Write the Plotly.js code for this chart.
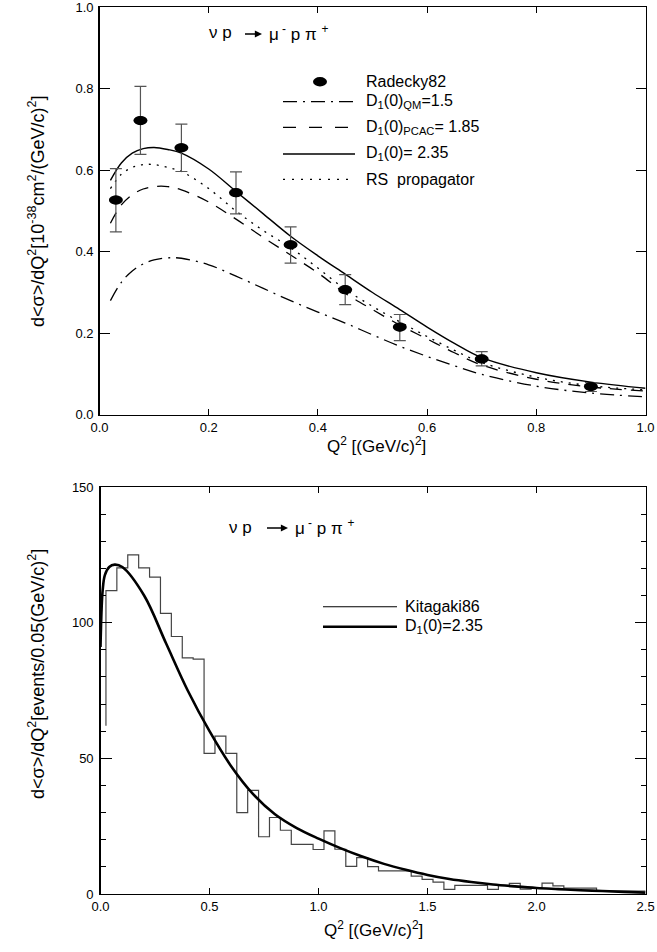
<!DOCTYPE html>
<html>
<head>
<meta charset="utf-8">
<script src="https://cdn.plot.ly/plotly-3.0.1.min.js"></script>
<style>html,body{margin:0;padding:0;background:#fff;}#chart{width:657px;height:952px;}</style>
</head>
<body>
<div id="chart"></div>
<script>
// ---------- Top panel data ----------
const q2Radecky = [0.03, 0.075, 0.15, 0.25, 0.35, 0.45, 0.55, 0.70, 0.90];
const radecky82 = [0.527, 0.722, 0.655, 0.545, 0.417, 0.307, 0.215, 0.137, 0.069];
const radeckyErrUp = [0.077, 0.084, 0.058, 0.051, 0.044, 0.037, 0.031, 0.018, 0.010];
const radeckyErrDn = [0.078, 0.083, 0.058, 0.052, 0.045, 0.037, 0.033, 0.017, 0.012];

const q2Curve = [0.02, 0.04, 0.06, 0.08, 0.10, 0.125, 0.15, 0.20, 0.25, 0.30, 0.35, 0.40, 0.45, 0.50, 0.55, 0.60, 0.65, 0.70, 0.80, 0.90, 1.00];
const d1QM   = [0.280, 0.325, 0.353, 0.370, 0.380, 0.385, 0.384, 0.368, 0.340, 0.310, 0.280, 0.252, 0.225, 0.196, 0.168, 0.143, 0.120, 0.099, 0.070, 0.053, 0.044];
const d1PCAC = [0.470, 0.515, 0.540, 0.554, 0.560, 0.560, 0.552, 0.522, 0.480, 0.435, 0.392, 0.348, 0.298, 0.258, 0.220, 0.186, 0.152, 0.122, 0.087, 0.068, 0.058];
const d1Fit  = [0.575, 0.618, 0.642, 0.653, 0.656, 0.651, 0.642, 0.603, 0.548, 0.493, 0.438, 0.390, 0.345, 0.300, 0.258, 0.215, 0.175, 0.140, 0.103, 0.080, 0.065];
const rsProp = [0.555, 0.590, 0.607, 0.614, 0.614, 0.607, 0.597, 0.555, 0.500, 0.452, 0.410, 0.360, 0.308, 0.266, 0.228, 0.192, 0.158, 0.128, 0.092, 0.071, 0.061];
const topXTicks = [0, 0.2, 0.4, 0.6, 0.8, 1.0];
const topYTicks = [0, 0.2, 0.4, 0.6, 0.8, 1.0];

// ---------- Bottom panel data ----------
const binLeft = [0.025,0.075,0.125,0.175,0.225,0.275,0.325,0.375,0.425,0.475,
                 0.525,0.575,0.625,0.675,0.725,0.775,0.825,0.875,0.925,0.975,
                 1.025,1.075,1.125,1.175,1.225,1.275,1.325,1.375,1.425,1.475,
                 1.525,1.575,1.625,1.675,1.725,1.775,1.825,1.875,1.925,1.975,
                 2.025,2.075,2.125,2.175,2.225,2.275,2.325,2.375,2.425,2.475];
const histEnd = 2.5;
const histStart = 62.0;
const kitagaki86 = [111.8,120.2,125.0,120.2,116.8,103.4,94.9,87.0,86.6,51.8,
                    58.2,51.8,30.0,38.2,21.1,28.2,23.5,18.3,18.3,16.4,
                    23.3,16.5,10.2,13.4,10.1,8.5,8.5,8.5,6.6,5.4,
                    4.4,1.7,3.2,3.2,3.2,1.7,3.2,3.9,1.8,2.3,
                    4.0,3.0,2.2,2.2,2.2,1.1,1.1,1.1,1.1,1.1];

const q2Fit2 = [0.0, 0.005, 0.01, 0.02, 0.04, 0.065, 0.10, 0.20, 0.30, 0.40, 0.50, 0.60, 0.70, 0.80, 0.90, 1.00, 1.10, 1.20, 1.30, 1.40, 1.50, 1.60, 1.70, 1.80, 1.90, 2.00, 2.10, 2.20, 2.30, 2.40, 2.50];
const fit235 = [91, 105, 112, 117.5, 120.5, 121.4, 120.5, 110, 92.5, 75, 60, 47, 36.8, 29.4, 24.3, 20.4, 16.9, 13.8, 11.1, 8.9, 7.0, 5.5, 4.4, 3.5, 2.8, 2.2, 1.8, 1.4, 1.1, 0.8, 0.5];
const botXTicks = [0, 0.5, 1.0, 1.5, 2.0, 2.5];
const botYTicks = [0, 50, 100, 150];

// ---------- Build histogram step path ----------
const hx = [binLeft[0]].concat(binLeft, [histEnd]);
const hy = [histStart].concat(kitagaki86, [kitagaki86[kitagaki86.length-1]]);

const FONT = 'Liberation Sans, Arial, Helvetica, sans-serif';

const traces = [
  {x: q2Curve, y: d1QM, xaxis:'x', yaxis:'y', mode:'lines', line:{color:'black', width:1.3, dash:'14px,6px,2px,6px', shape:'spline'}, name:'D1(0)QM=1.5'},
  {x: q2Curve, y: d1PCAC, xaxis:'x', yaxis:'y', mode:'lines', line:{color:'black', width:1.3, dash:'12px,9px', shape:'spline'}, name:'D1(0)PCAC=1.85'},
  {x: q2Curve, y: rsProp, xaxis:'x', yaxis:'y', mode:'lines', line:{color:'black', width:1.3, dash:'2px,6px', shape:'spline'}, name:'RS propagator'},
  {x: q2Curve, y: d1Fit, xaxis:'x', yaxis:'y', mode:'lines', line:{color:'black', width:1.4, shape:'spline'}, name:'D1(0)=2.35'},
  {x: q2Radecky, y: radecky82, xaxis:'x', yaxis:'y', mode:'markers', name:'Radecky82',
   marker:{color:'black', size:9, symbol:'circle'},
   error_y:{type:'data', symmetric:false, array: radeckyErrUp, arrayminus: radeckyErrDn, color:'#555', thickness:1.2, width:6}},
  {x: hx, y: hy, xaxis:'x2', yaxis:'y2', mode:'lines', line:{color:'#444', width:1.2, shape:'hv'}, name:'Kitagaki86'},
  {x: q2Fit2, y: fit235, xaxis:'x2', yaxis:'y2', mode:'lines', line:{color:'black', width:2.6, shape:'spline', smoothing:1}, name:'D1(0)=2.35'}
];

// ellipse markers at data points (drawn through axis scales)
const shapes = q2Radecky.map((q, i) => ({
  type:'circle', xref:'x', yref:'y', xsizemode:'pixel', ysizemode:'pixel',
  xanchor: q, yanchor: radecky82[i], x0:-7, x1:7, y0:-4.6, y1:4.6,
  fillcolor:'black', line:{color:'black', width:0}
}));

// manual legend
const px = v => v/657, py = v => 1 - v/952;
function legLine(x0, x1, y, dash, width){
  return {type:'line', xref:'paper', yref:'paper', x0:px(x0), x1:px(x1), y0:py(y), y1:py(y), line:{color:'black', width:width, dash:dash}};
}
shapes.push({type:'circle', xref:'paper', yref:'paper', x0:px(313), x1:px(327), y0:py(86.4), y1:py(77.0), fillcolor:'black', line:{width:0}});
shapes.push(legLine(283, 355, 101.7, '14px,6px,2px,6px', 1.3));
shapes.push(legLine(283, 355, 127.3, '13px,13px', 1.3));
shapes.push(legLine(283, 355, 154.0, 'solid', 1.4));
shapes.push(legLine(283, 355, 179.3, '2px,7px', 1.3));
shapes.push(legLine(323, 397, 606.7, 'solid', 1.1));
shapes.push(legLine(323, 397, 626.7, 'solid', 2.6));

const legFont = {family: FONT, size: 16, color:'black'};
function leg(x, y, t){ return {xref:'paper', yref:'paper', x:px(x), y:py(y), xanchor:'left', yanchor:'middle', text:t, showarrow:false, font:legFont}; }
const rxFont = {family:FONT, size:17, color:'black'};

const annotations = [
  leg(364, 81.7, 'Radecky82'),
  leg(364, 101.7, 'D<sub>1</sub>(0)<sub>QM</sub>=1.5'),
  leg(364, 127.3, 'D<sub>1</sub>(0)<sub>PCAC</sub>= 1.85'),
  leg(364, 154.0, 'D<sub>1</sub>(0)= 2.35'),
  leg(364, 179.3, 'RS  propagator'),
  leg(403, 606.7, 'Kitagaki86'),
  leg(403, 626.7, 'D<sub>1</sub>(0)=2.35'),
  // reaction labels
  {xref:'paper', yref:'paper', x:px(207), y:py(33), text:'ν p', showarrow:false, font:rxFont, xanchor:'left', yanchor:'middle'},
  {xref:'paper', yref:'paper', x:px(262), y:py(34), ax:-20, ay:0, text:' ', showarrow:true, arrowhead:2, arrowsize:1.1, arrowwidth:1.3, arrowcolor:'black'},
  {xref:'paper', yref:'paper', x:px(267), y:py(33), text:'μ<sup> -</sup> p π <sup>+</sup>', showarrow:false, font:rxFont, xanchor:'left', yanchor:'middle'},
  {xref:'paper', yref:'paper', x:px(227), y:py(527), text:'ν p', showarrow:false, font:rxFont, xanchor:'left', yanchor:'middle'},
  {xref:'paper', yref:'paper', x:px(288), y:py(528), ax:-24, ay:0, text:' ', showarrow:true, arrowhead:2, arrowsize:1.1, arrowwidth:1.3, arrowcolor:'black'},
  {xref:'paper', yref:'paper', x:px(293), y:py(527), text:'μ<sup> -</sup> p π <sup>+</sup>', showarrow:false, font:rxFont, xanchor:'left', yanchor:'middle'},
  // axis titles
  {xref:'paper', yref:'paper', x:px(36), y:py(212), textangle:-90, text:'d&lt;σ&gt;/dQ<sup>2</sup>[10<sup>-38</sup>cm<sup>2</sup>/(GeV/c)<sup>2</sup>]', showarrow:false, font:{family:FONT, size:18, color:'black'}, xanchor:'center', yanchor:'middle'},
  {xref:'paper', yref:'paper', x:px(376), y:py(445), text:'Q<sup>2</sup> [(GeV/c)<sup>2</sup>]', showarrow:false, font:{family:FONT, size:17, color:'black'}, xanchor:'center', yanchor:'middle'},
  {xref:'paper', yref:'paper', x:px(36), y:py(674), textangle:-90, text:'d&lt;σ&gt;/dQ<sup>2</sup>[events/0.05(GeV/c)<sup>2</sup>]', showarrow:false, font:{family:FONT, size:18, color:'black'}, xanchor:'center', yanchor:'middle'},
  {xref:'paper', yref:'paper', x:px(373), y:py(929), text:'Q<sup>2</sup> [(GeV/c)<sup>2</sup>]', showarrow:false, font:{family:FONT, size:17, color:'black'}, xanchor:'center', yanchor:'middle'}
];

const axBase = {showline:true, linecolor:'black', linewidth:1.3, mirror:'ticks', ticks:'inside', tickcolor:'black',
  tickwidth:1.2, showgrid:false, zeroline:false, tickfont:{family:FONT, size:13, color:'black'}, automargin:false, fixedrange:true,
  ticklabeloverflow:'allow'};

const layout = {
  width:657, height:952, margin:{l:0, r:0, t:0, b:0},
  paper_bgcolor:'white', plot_bgcolor:'white', showlegend:false,
  font:{family:FONT, color:'black'},
  xaxis: Object.assign({}, axBase, {domain:[99.5/657, 645.5/657], anchor:'y', range:[0,1], tickmode:'array', tickvals:topXTicks, tickformat:'.1f', ticklen:6}),
  yaxis: Object.assign({}, axBase, {domain:[1-414.7/952, 1-7.3/952], anchor:'x', range:[0,1], tickmode:'array', tickvals:topYTicks, tickformat:'.1f', ticklen:10, ticklabelstandoff:2}),
  xaxis2: Object.assign({}, axBase, {domain:[100.5/657, 645.6/657], anchor:'y2', range:[0,2.5], tickmode:'array', tickvals:botXTicks, tickformat:'.1f', ticklen:6}),
  yaxis2: Object.assign({}, axBase, {domain:[1-894/952, 1-487/952], anchor:'x2', range:[0,150], tickmode:'array', tickvals:botYTicks, ticklen:11, ticklabelstandoff:3,
    minor:{dtick:10, tick0:0, ticks:'inside', ticklen:5, tickcolor:'black', tickwidth:1.1}}),
  shapes: shapes,
  annotations: annotations
};

Plotly.newPlot('chart', traces, layout, {displayModeBar:false, staticPlot:true});
</script>
</body>
</html>
